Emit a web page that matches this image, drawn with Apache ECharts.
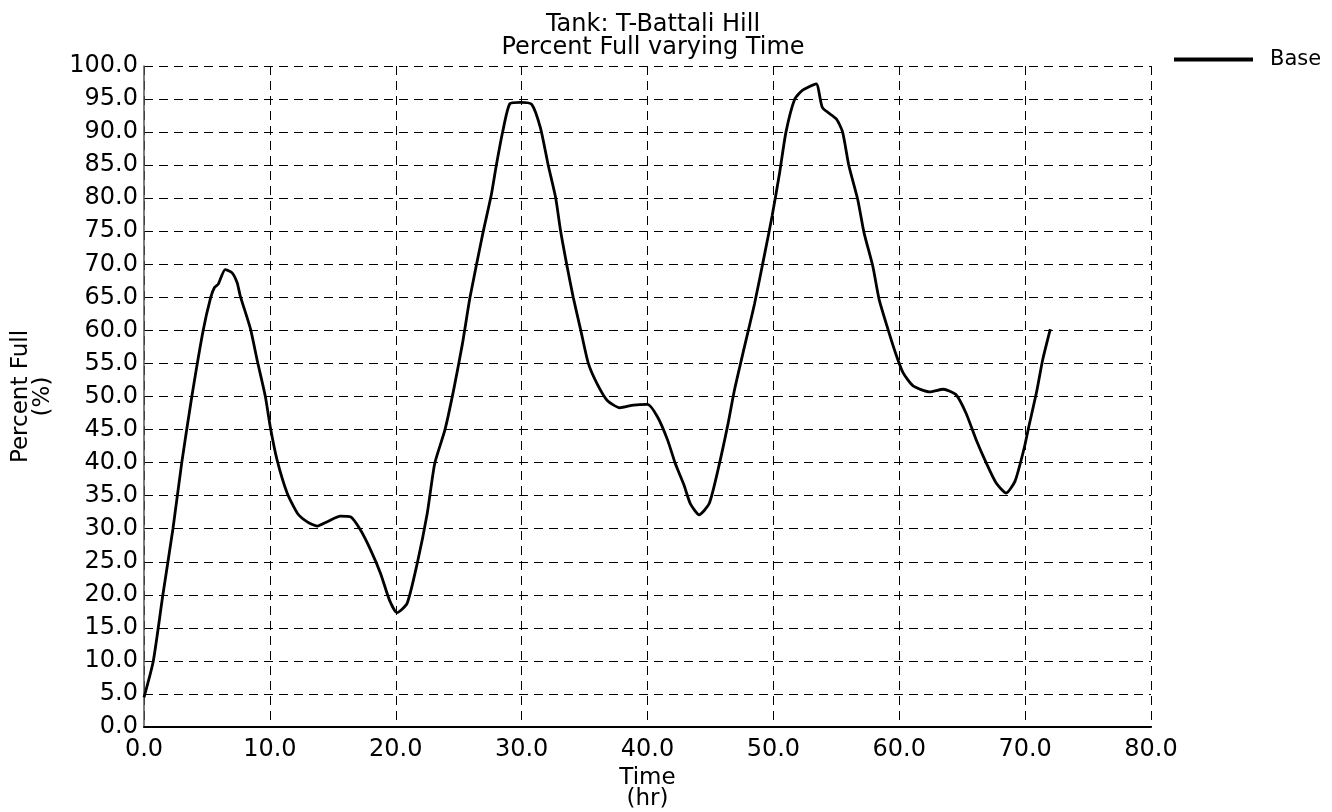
<!DOCTYPE html>
<html>
<head>
<meta charset="utf-8">
<title>Tank: T-Battali Hill</title>
<script src="https://cdn.jsdelivr.net/npm/echarts@6/dist/echarts.min.js"></script>
<style>
    html, body { margin: 0; padding: 0; background: #fff; }
    #chart { width: 1332px; height: 812px; }
</style>
</head>
<body>
<div id="chart"></div>
<script>
// Tank level (time in hr, percent full)
const hours = [
    0, 0.74, 1.5, 2.3, 3.0, 3.8, 4.7, 5.3, 5.6, 5.9, 6.45, 7.0, 7.4, 7.65, 8.45, 9.0, 9.64,
    10.04, 10.57, 11.37, 12.2, 13.0, 13.76, 14.6, 15.6, 16.4, 17.2, 18.0, 18.8, 19.5, 20.1,
    20.9, 21.7, 22.5, 23.1, 23.9, 24.6, 25.3, 25.9, 26.9, 27.6, 28.0, 28.5, 29.07, 29.9,
    30.8, 31.5, 32.1, 32.7, 33.1, 33.6, 34.1, 34.7, 35.3, 36.0, 36.8, 37.8, 38.9, 40.0,
    40.8, 41.6, 42.2, 42.9, 43.4, 44.1, 44.9, 45.6, 46.4, 46.9, 47.7, 48.5, 49.3, 49.9,
    50.5, 51.0, 51.7, 52.3, 53.4, 53.9, 55.0, 55.5, 56.0, 56.7, 57.2, 57.9, 58.4, 59.1,
    59.7, 60.3, 61.1, 62.4, 63.5, 64.5, 65.3, 66.1, 66.9, 67.7, 68.5, 69.2, 69.9, 70.3,
    70.9, 71.4, 72.0
];
const percentFull = [
    4.5, 10, 20, 30, 40, 50, 60, 65, 66.5, 67, 69.2, 68.7, 67.2, 65.2, 60.3, 55.4, 50,
    45.3, 40.4, 35.4, 32.3, 31, 30.4, 31.1, 31.9, 31.8, 29.8, 26.8, 23.2, 19.2, 17.3,
    18.7, 24.7, 32.3, 39.9, 44.9, 51, 58, 65, 74.5, 80.6, 85.1, 90.1, 94.3, 94.5,
    94.2, 90.6, 85.1, 80.1, 75, 69.8, 65, 60, 55, 51.9, 49.4, 48.3, 48.7, 48.8,
    46.9, 43.4, 39.9, 36.6, 33.8, 32.1, 33.8, 38.9, 45.9, 50.9, 57.5, 64, 71.5, 77.3,
    83.9, 90, 95, 96.3, 97.3, 93.7, 92, 90, 84.9, 79.8, 74.8, 69.7, 64.7, 60.2,
    56.6, 53.6, 51.6, 50.7, 51.1, 50.3, 47.5, 43.5, 40, 36.9, 35.4, 37.2, 42, 45.5,
    50.6, 55.6, 60.2
];
const seriesName = 'Base';
const titleLines = ['Tank: T-Battali Hill', 'Percent Full varying Time'];

const FONT = 'DejaVu Sans';

const chart = echarts.init(document.getElementById('chart'));

const gridLine = { show: true, lineStyle: { color: '#000', width: 1, type: [9, 6] } };

chart.setOption({
    backgroundColor: '#fff',
    animation: false,
    title: {
        text: titleLines.join('\n'),
        left: 648,
        top: 8,
        textAlign: 'center',
        textStyle: { fontFamily: FONT, fontSize: 24, fontWeight: 'normal', color: '#000', lineHeight: 23 }
    },
    legend: {
        left: 1169,
        top: 44,
        itemWidth: 79,
        itemHeight: 4,
        icon: 'rect',
        data: [{ name: seriesName, itemStyle: { color: '#000' } }],
        textStyle: { fontFamily: FONT, fontSize: 21, color: '#000', padding: [0, 0, 0, 12] },
        itemStyle: { color: '#000' }
    },
    grid: { left: 144, right: 181, top: 66, bottom: 85, outerBoundsMode: 'none' },
    xAxis: {
        type: 'value',
        min: 0,
        max: 80,
        interval: 10,
        name: 'Time\n(hr)',
        nameLocation: 'middle',
        nameGap: 34,
        nameTextStyle: { fontFamily: FONT, fontSize: 23, color: '#000', lineHeight: 21 },
        axisLine: { show: true, lineStyle: { color: '#000', width: 2 } },
        axisTick: { show: false },
        axisLabel: {
            margin: 11, fontFamily: FONT, fontSize: 24, color: '#000',
            formatter: v => v.toFixed(1)
        },
        splitLine: gridLine
    },
    yAxis: {
        type: 'value',
        min: 0,
        max: 100,
        interval: 5,
        name: 'Percent Full\n(%)',
        nameLocation: 'middle',
        nameGap: 90,
        nameRotate: 90,
        nameTextStyle: { fontFamily: FONT, fontSize: 23, color: '#000', lineHeight: 22 },
        axisLine: { show: true, lineStyle: { color: '#555', width: 1.5 } },
        axisTick: { show: false },
        axisLabel: {
            margin: 6, fontFamily: FONT, fontSize: 24, color: '#000',
            formatter: v => v.toFixed(1)
        },
        splitLine: gridLine
    },
    series: [{
        name: seriesName,
        type: 'line',
        data: hours.map((h, i) => [h, percentFull[i]]),
        showSymbol: false,
        smooth: 0.2,
        lineStyle: { color: '#000', width: 2.8 },
        itemStyle: { color: '#000' }
    }]
});
</script>
</body>
</html>
